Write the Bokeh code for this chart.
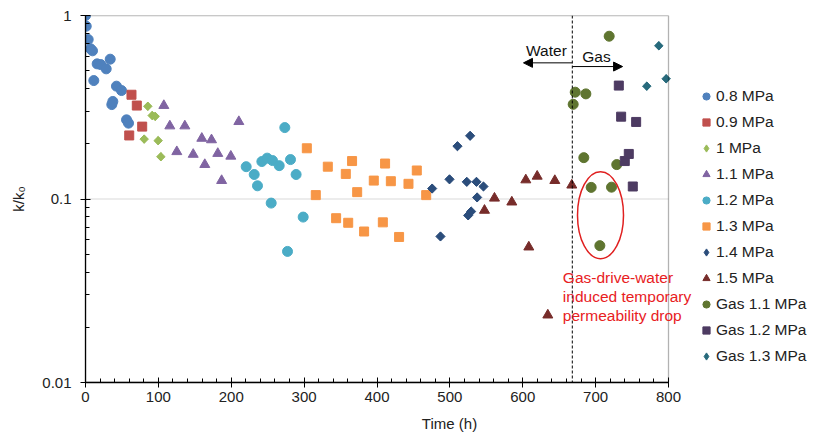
import numpy as np
from bokeh.plotting import figure
from bokeh.models import (Range1d, FixedTicker, Span, Arrow, NormalHead, Label,
                          Legend, LegendItem, BoxAnnotation)
from bokeh.embed import file_html
from bokeh.resources import INLINE

# ---------------- data ----------------
t_08 = [0, 1, 3.7, 6.9, 9.6, 11.4, 16, 21, 28.4, 33.9, 36.1, 37.5, 42.5, 49.4, 56.3, 59]
k_08 = [1.0, 0.874, 0.740, 0.659, 0.642, 0.442, 0.545, 0.540, 0.512, 0.578, 0.327, 0.340, 0.412, 0.390, 0.270, 0.259]

t_09 = [60, 63.1, 70.4, 77.8]
k_09 = [0.222, 0.370, 0.323, 0.248]

t_10 = [80.5, 85.5, 91.5, 95.6, 99.7, 103.4]
k_10 = [0.212, 0.320, 0.285, 0.282, 0.208, 0.170]

t_11 = [107.5, 115.7, 125.3, 136.3, 147.8, 159.6, 163.7, 172.9, 181.5, 186.8, 199.4, 210.4]
k_11 = [0.323, 0.250, 0.181, 0.250, 0.175, 0.214, 0.154, 0.210, 0.177, 0.126, 0.171, 0.264]

t_12 = [220.5, 231.5, 236, 242, 249.3, 254.8, 256.6, 265.8, 273.5, 277.2, 281.3, 289, 298.7]
k_12 = [0.150, 0.136, 0.118, 0.160, 0.167, 0.095, 0.162, 0.152, 0.245, 0.0518, 0.164, 0.136, 0.0797]

t_13 = [303.7, 316, 332.5, 343.9, 357.2, 360.5, 365.8, 372.8, 382.3, 395.6, 408, 411.1, 419, 430.3, 443.2, 454.6, 467.5]
k_13 = [0.189, 0.105, 0.150, 0.0786, 0.137, 0.0742, 0.161, 0.109, 0.0665, 0.126, 0.0746, 0.156, 0.125, 0.0621, 0.121, 0.143, 0.105]

t_14 = [475.7, 487.1, 499.5, 510.4, 523.2, 525.1, 527.8, 529.2, 536.5, 537.4, 546.1]
k_14 = [0.114, 0.0625, 0.128, 0.194, 0.124, 0.0814, 0.221, 0.0855, 0.124, 0.102, 0.117]

t_15 = [547.5, 561.2, 585, 604.2, 608.3, 619.8, 634.4, 644, 667.3]
k_15 = [0.0867, 0.101, 0.0962, 0.127, 0.0547, 0.133, 0.0233, 0.126, 0.119]

t_g11 = [669.2, 672, 683.8, 686.6, 693.9, 705.8, 718.6, 721.8, 729]
k_g11 = [0.328, 0.382, 0.168, 0.374, 0.1157, 0.0557, 0.771, 0.116, 0.154]

t_g12 = [731.8, 735, 740, 745.5, 751, 755.6]
k_g12 = [0.415, 0.281, 0.161, 0.176, 0.117, 0.263]

t_g13 = [770.2, 786.7, 796.8]
k_g13 = [0.412, 0.684, 0.452]

switch_time = 668          # water -> gas switch (h)
x_min, x_max = 0, 800
y_min, y_max = 0.01, 1
x_ticks = [0, 100, 200, 300, 400, 500, 600, 700, 800]
y_ticks = [0.01, 0.1, 1]
y_tick_labels = ["0.01", "0.1", "1"]

FONT = "Liberation Sans"

# layout (pixels): plot box 583 px wide for 0..800 h, the extra room on the right
# holds the legend and annotation text without clipping
BOX_W = 583
FRAME_W = 728
x_range_end = x_max * FRAME_W / BOX_W

p = figure(width=813, height=437, x_axis_type="linear", y_axis_type="log",
           x_range=Range1d(x_min, x_range_end), y_range=Range1d(y_min, y_max),
           output_backend="svg", toolbar_location=None,
           min_border_left=85, min_border_right=0, min_border_top=15, min_border_bottom=55)

p.outline_line_color = None
p.background_fill_color = "white"
p.border_fill_color = "white"

# axes
p.xaxis.ticker = FixedTicker(ticks=x_ticks, minor_ticks=list(range(x_min, x_max + 1, 20)))
minor_y = [m * d for d in (0.01, 0.1) for m in range(2, 10)]
p.yaxis.ticker = FixedTicker(ticks=y_ticks, minor_ticks=minor_y)
p.yaxis.major_label_overrides = {v: s for v, s in zip(y_ticks, y_tick_labels)}
p.xaxis.bounds = (x_min, x_max)

for ax in (p.xaxis, p.yaxis):
    ax.axis_line_color = "black"
    ax.axis_line_width = 1.3
    ax.major_tick_line_color = "black"
    ax.minor_tick_line_color = "black"
    ax.major_tick_in = 5
    ax.major_tick_out = 5
    ax.minor_tick_in = 4
    ax.minor_tick_out = 0
    ax.major_label_text_font = FONT
    ax.major_label_text_font_size = "15px"
    ax.major_label_text_color = "#222222"
    ax.axis_label_text_font = FONT
    ax.axis_label_text_font_size = "15px"
    ax.axis_label_text_font_style = "normal"
    ax.axis_label_text_color = "#222222"

p.xaxis.axis_label = "Time (h)"
p.yaxis.axis_label = "k/k₀"
p.yaxis.major_label_standoff = 9
p.xaxis.major_label_standoff = 4
p.yaxis.axis_label_standoff = 12
p.xaxis.axis_label_standoff = 10
p.xaxis.axis_label_text_align = "center"

p.xgrid.grid_line_color = None
p.ygrid.grid_line_color = None
# horizontal gridlines only across the 0..800 h box
for v in y_ticks:
    p.line(x=[x_min, x_max], y=[v, v], line_color="#d9d9d9", line_width=1, level="underlay")

# plot box outline
p.add_layout(BoxAnnotation(left=x_min, right=x_max, bottom=y_min, top=y_max,
                           fill_alpha=0, line_color="black", line_width=1.3))

# series: (name, x, y, marker, size, angle, colour, diamond-style legend?)
series = [
    ("0.8 MPa", t_08, k_08, "circle", 10, 0, "#4f81bd", False),
    ("0.9 MPa", t_09, k_09, "square", 9, 0, "#c0504d", False),
    ("1 MPa", t_10, k_10, "square", 6, np.pi / 4, "#9bbb59", True),
    ("1.1 MPa", t_11, k_11, "triangle", 10, 0, "#8064a2", False),
    ("1.2 MPa", t_12, k_12, "circle", 10, 0, "#4bacc6", False),
    ("1.3 MPa", t_13, k_13, "square", 9, 0, "#f79646", False),
    ("1.4 MPa", t_14, k_14, "square", 6.5, np.pi / 4, "#2b4d7b", True),
    ("1.5 MPa", t_15, k_15, "triangle", 10, 0, "#772c2a", False),
    ("Gas 1.1 MPa", t_g11, k_g11, "circle", 10, 0, "#5f7530", False),
    ("Gas 1.2 MPa", t_g12, k_g12, "square", 9, 0, "#4d3b62", False),
    ("Gas 1.3 MPa", t_g13, k_g13, "square", 6, np.pi / 4, "#276a7c", True),
]

items = []
for name, xs, ys, mk, sz, ang, col, dia in series:
    sw = None
    if dia:
        # diamond swatch for the legend, hidden underneath the rotated squares
        sw = p.scatter(x=xs, y=ys, marker="diamond", size=8,
                       fill_color=col, line_color=col)
    r = p.scatter(x=xs, y=ys, marker=mk, size=sz, angle=ang,
                  fill_color=col, line_color=col, line_width=1)
    items.append(LegendItem(label=name, renderers=[sw if sw is not None else r]))

# water / gas switch
p.add_layout(Span(location=switch_time, dimension="height", line_color="black",
                  line_width=1, line_dash="3 2"))
p.add_layout(Arrow(end=NormalHead(size=9, fill_color="black", line_color="black"),
                   x_start=switch_time, y_start=0.552, x_end=601, y_end=0.552,
                   line_color="black", line_width=1))
p.add_layout(Arrow(end=NormalHead(size=9, fill_color="black", line_color="black"),
                   x_start=switch_time, y_start=0.527, x_end=737, y_end=0.527,
                   line_color="black", line_width=1))
p.add_layout(Label(x=604.5, y=0.645, text="Water", text_font=FONT, text_font_size="15.5px",
                   text_baseline="middle", text_color="#111111"))
p.add_layout(Label(x=681.6, y=0.600, text="Gas", text_font=FONT, text_font_size="15.5px",
                   text_baseline="middle", text_color="#111111"))

# red ellipse and annotation
p.ellipse(x=[706.7], y=[0.0816], width=46, height=87, width_units="screen",
          height_units="screen", fill_color=None, line_color="#e02020", line_width=1.5)
for txt, yy in [("Gas-drive-water", 0.0375), ("induced temporary", 0.0294),
                ("permeability drop", 0.0232)]:
    p.add_layout(Label(x=655, y=yy, text=txt, text_font=FONT, text_font_size="15.5px",
                       text_baseline="middle", text_color="#e8201e"))

legend = Legend(items=items, location=(612, 16), label_text_font=FONT,
                label_text_font_size="15.5px", label_text_color="#222222",
                glyph_width=18, glyph_height=20, label_height=20, label_standoff=1,
                spacing=6, padding=0, margin=0,
                border_line_color=None, background_fill_alpha=0)
p.add_layout(legend, "center")

open("out.html", "w").write(file_html(p, INLINE))
